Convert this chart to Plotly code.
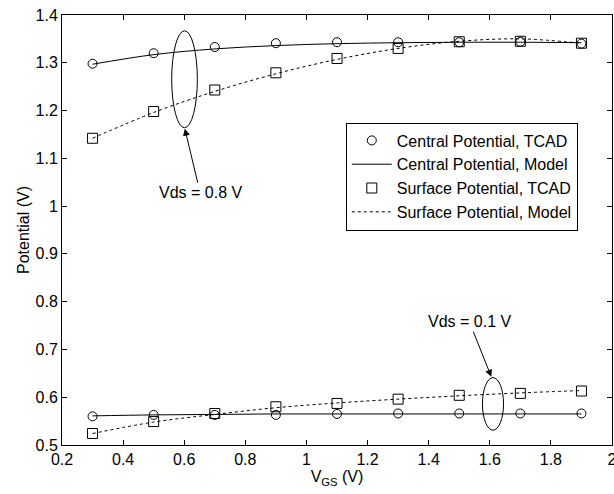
import plotly.graph_objects as go

vgs = [0.3, 0.5, 0.7, 0.9, 1.1, 1.3, 1.5, 1.7, 1.9]

# Vds = 0.8 V
central_tcad_08 = [1.298, 1.320, 1.333, 1.341, 1.343, 1.343, 1.343, 1.344, 1.340]
central_model_08 = [1.297, 1.317, 1.329, 1.336, 1.340, 1.342, 1.343, 1.343, 1.342]
surface_tcad_08 = [1.142, 1.198, 1.243, 1.279, 1.309, 1.330, 1.344, 1.345, 1.341]
surface_model_08 = [1.142, 1.196, 1.240, 1.277, 1.307, 1.330, 1.345, 1.350, 1.341]

# Vds = 0.1 V
central_tcad_01 = [0.560, 0.563, 0.563, 0.563, 0.565, 0.566, 0.566, 0.566, 0.566]
central_model_01 = [0.561, 0.563, 0.564, 0.565, 0.565, 0.565, 0.565, 0.565, 0.565]
surface_tcad_01 = [0.524, 0.549, 0.566, 0.580, 0.587, 0.596, 0.604, 0.608, 0.613]
surface_model_01 = [0.524, 0.548, 0.564, 0.578, 0.588, 0.596, 0.603, 0.609, 0.614]

x_ticks = [0.2, 0.4, 0.6, 0.8, 1.0, 1.2, 1.4, 1.6, 1.8, 2.0]
x_ticklabels = ["0.2", "0.4", "0.6", "0.8", "1", "1.2", "1.4", "1.6", "1.8", "2"]
y_ticks = [0.5, 0.6, 0.7, 0.8, 0.9, 1.0, 1.1, 1.2, 1.3, 1.4]
y_ticklabels = ["0.5", "0.6", "0.7", "0.8", "0.9", "1", "1.1", "1.2", "1.3", "1.4"]

names = ["Central Potential, TCAD", "Central Potential, Model",
         "Surface Potential, TCAD", "Surface Potential, Model"]

FS = 16
fig = go.Figure()

def add_set(ct, cm, st, sm):
    fig.add_trace(go.Scatter(x=vgs, y=cm, mode="lines", name=names[1],
                             showlegend=False, line=dict(color="black", width=1, shape="spline")))
    fig.add_trace(go.Scatter(x=vgs, y=sm, mode="lines", name=names[3],
                             showlegend=False, line=dict(color="black", width=1, dash="3px,3px", shape="spline")))
    fig.add_trace(go.Scatter(x=vgs, y=ct, mode="markers", name=names[0],
                             showlegend=False,
                             marker=dict(symbol="circle-open", size=9, color="black", line=dict(width=1, color="black"))))
    fig.add_trace(go.Scatter(x=vgs, y=st, mode="markers", name=names[2],
                             showlegend=False,
                             marker=dict(symbol="square-open", size=10, color="black", line=dict(width=1, color="black"))))

add_set(central_tcad_08, central_model_08, surface_tcad_08, surface_model_08)
add_set(central_tcad_01, central_model_01, surface_tcad_01, surface_model_01)

# legend-only traces in order
fig.add_trace(go.Scatter(x=[None], y=[None], mode="markers", name=names[0],
                         marker=dict(symbol="circle-open", size=9, color="black", line=dict(width=1, color="black"))))
fig.add_trace(go.Scatter(x=[None], y=[None], mode="lines", name=names[1],
                         line=dict(color="black", width=1)))
fig.add_trace(go.Scatter(x=[None], y=[None], mode="markers", name=names[2],
                         marker=dict(symbol="square-open", size=10, color="black", line=dict(width=1, color="black"))))
fig.add_trace(go.Scatter(x=[None], y=[None], mode="lines", name=names[3],
                         line=dict(color="black", width=1, dash="3px,3px")))

# ellipses
fig.add_shape(type="circle", xref="x", yref="y", x0=0.559, x1=0.643, y0=1.164, y1=1.367,
              line=dict(color="black", width=1))
fig.add_shape(type="circle", xref="x", yref="y", x0=1.576, x1=1.645, y0=0.531, y1=0.641,
              line=dict(color="black", width=1))

fig.add_annotation(x=0.602, y=1.162, ax=0.652, ay=1.028, axref="x", ayref="y",
                   xref="x", yref="y", text="Vds = 0.8 V", showarrow=True,
                   arrowhead=2, arrowsize=1.4, arrowwidth=1, arrowcolor="black",
                   font=dict(size=FS, color="black"))
fig.add_annotation(x=1.605, y=0.643, ax=1.533, ay=0.758, axref="x", ayref="y",
                   xref="x", yref="y", text="Vds = 0.1 V", showarrow=True,
                   arrowhead=2, arrowsize=1.4, arrowwidth=1, arrowcolor="black",
                   font=dict(size=FS, color="black"))

axis_common = dict(showline=True, linecolor="black", linewidth=1, mirror="ticks",
                   ticks="inside", ticklen=5, tickcolor="black", showgrid=False,
                   zeroline=False, tickfont=dict(size=FS, color="black"),
                   ticklabeloverflow="allow", automargin=False)

fig.update_xaxes(range=[0.2, 2.0], tickmode="array", tickvals=x_ticks, ticktext=x_ticklabels,
                 title=dict(text="V<sub>GS</sub> (V)", font=dict(size=FS, color="black"), standoff=2),
                 **axis_common)
fig.update_yaxes(range=[0.5, 1.4], tickmode="array", tickvals=y_ticks, ticktext=y_ticklabels,
                 title=dict(text="Potential (V)", font=dict(size=FS, color="black"), standoff=1),
                 **axis_common)

fig.update_layout(
    width=614, height=494,
    margin=dict(l=62, r=2, t=15, b=49, autoexpand=False),
    paper_bgcolor="white", plot_bgcolor="white",
    font=dict(family="Liberation Sans, Arial, sans-serif", size=FS, color="black"),
    legend=dict(x=0.516, y=0.75, xanchor="left", yanchor="top",
                bordercolor="black", borderwidth=1, bgcolor="white",
                font=dict(size=FS, color="black"), tracegroupgap=0,
                itemwidth=40),
)

fig.write_html("out.html")
